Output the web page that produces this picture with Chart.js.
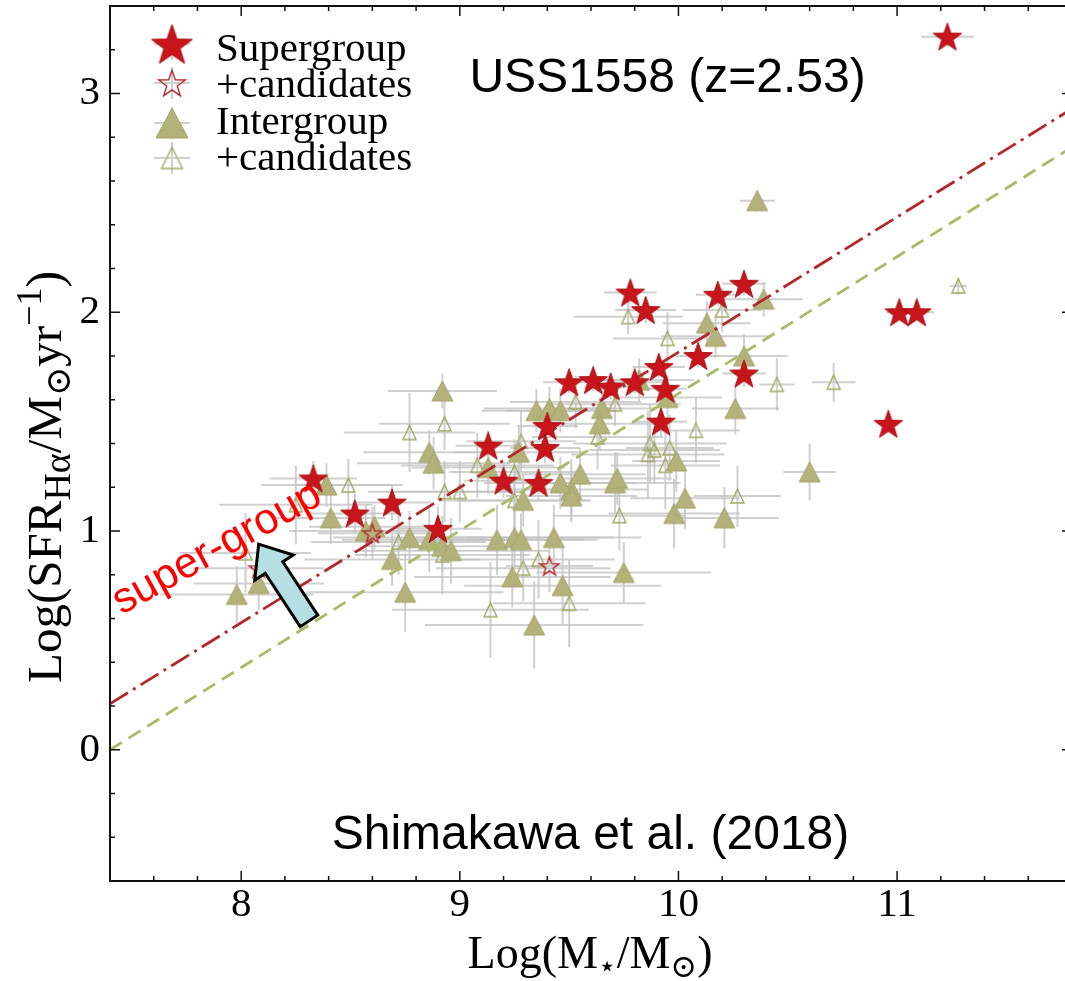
<!DOCTYPE html>
<html>
<head>
<meta charset="utf-8">
<script src="https://cdn.jsdelivr.net/npm/chart.js@4.4.1/dist/chart.umd.min.js"></script>
<style>
  html, body { margin: 0; padding: 0; background: #fff; overflow: hidden; }
  /* the plot frame runs slightly past the right edge of the window, as in the source figure */
  #wrap { width: 1065px; height: 981px; overflow: hidden; }
</style>
</head>
<body>
<div id="wrap"><canvas id="chart" width="1076" height="981"></canvas></div>
<script>
// axis ticks
const xTicks = [8, 9, 10, 11];
const yTicks = [0, 1, 2, 3];

// [logM, logSFR, xErr, yErr]
const supergroup = [
  [11.23, 3.26, 0.12, 0.05], [8.33, 1.24, 0.20, 0.08], [8.52, 1.08, 0.22, 0.09],
  [8.69, 1.13, 0.18, 0.08], [8.90, 1.01, 0.20, 0.10], [9.13, 1.39, 0.15, 0.07],
  [9.20, 1.23, 0.18, 0.08], [9.36, 1.22, 0.15, 0.08], [9.40, 1.48, 0.14, 0.06],
  [9.39, 1.38, 0.16, 0.07], [9.50, 1.68, 0.12, 0.05], [9.61, 1.69, 0.14, 0.05],
  [9.69, 1.66, 0.12, 0.06], [9.80, 1.68, 0.13, 0.05], [9.91, 1.75, 0.12, 0.05],
  [9.94, 1.65, 0.10, 0.06], [9.92, 1.50, 0.12, 0.07], [9.78, 2.09, 0.12, 0.05],
  [9.85, 2.01, 0.14, 0.06], [10.09, 1.80, 0.10, 0.05], [10.18, 2.08, 0.10, 0.05],
  [10.30, 2.13, 0.10, 0.05], [10.30, 1.72, 0.10, 0.06], [11.01, 2.00, 0.06, 0.03],
  [11.09, 2.00, 0.08, 0.03], [10.96, 1.49, 0.05, 0.04]
];
const supergroupCand = [
  [8.60, 0.99, 0.25, 0.12], [9.41, 0.84, 0.20, 0.12], [8.08, 0.83, 0.30, 0.12]
];
const intergroup = [
  [7.98, 0.71, 0.35, 0.13], [8.08, 0.76, 0.30, 0.12], [8.39, 1.21, 0.30, 0.10],
  [8.41, 1.06, 0.25, 0.12], [8.57, 1.00, 0.35, 0.12], [8.61, 1.02, 0.30, 0.10],
  [8.69, 0.87, 0.40, 0.12], [8.77, 0.97, 0.35, 0.12], [8.75, 0.72, 0.45, 0.18],
  [8.92, 1.64, 0.25, 0.08], [8.86, 1.36, 0.30, 0.10], [8.88, 1.31, 0.35, 0.12],
  [8.86, 0.96, 0.40, 0.15], [8.92, 0.93, 0.35, 0.12], [8.96, 0.91, 0.45, 0.15],
  [9.17, 0.96, 0.40, 0.16], [9.25, 0.97, 0.45, 0.14], [9.28, 0.96, 0.35, 0.12],
  [9.24, 0.79, 0.45, 0.14], [9.34, 0.57, 0.50, 0.20], [9.29, 1.14, 0.30, 0.12],
  [9.13, 1.29, 0.35, 0.12], [9.27, 1.36, 0.30, 0.12], [9.35, 1.55, 0.25, 0.10],
  [9.41, 1.56, 0.30, 0.10], [9.46, 1.55, 0.25, 0.10], [9.43, 0.97, 0.40, 0.15],
  [9.47, 0.75, 0.45, 0.18], [9.51, 1.19, 0.35, 0.14], [9.51, 1.16, 0.30, 0.12],
  [9.55, 1.26, 0.30, 0.12], [9.46, 1.22, 0.35, 0.12], [9.65, 1.56, 0.25, 0.10],
  [9.64, 1.49, 0.30, 0.12], [9.71, 1.22, 0.30, 0.14], [9.72, 1.24, 0.25, 0.12],
  [9.75, 0.81, 0.40, 0.14], [9.99, 1.32, 0.20, 0.14], [10.03, 1.15, 0.25, 0.14],
  [9.98, 1.08, 0.30, 0.16], [10.21, 1.06, 0.25, 0.14], [10.26, 1.56, 0.20, 0.12],
  [10.60, 1.27, 0.12, 0.13], [10.13, 1.95, 0.20, 0.10], [10.17, 1.89, 0.25, 0.10],
  [10.30, 1.80, 0.20, 0.10], [10.39, 2.06, 0.18, 0.08], [9.95, 1.61, 0.25, 0.10],
  [9.82, 1.69, 0.25, 0.10], [10.36, 2.51, 0.08, 0.05]
];
const intergroupCand = [
  [8.49, 1.21, 0.25, 0.12], [8.25, 1.12, 0.35, 0.18], [8.02, 0.90, 0.30, 0.18],
  [8.72, 0.95, 0.40, 0.15], [8.93, 1.49, 0.30, 0.12], [8.77, 1.45, 0.30, 0.18],
  [9.08, 1.30, 0.35, 0.15], [8.93, 1.18, 0.35, 0.14], [9.00, 1.18, 0.30, 0.14],
  [9.25, 1.27, 0.30, 0.15], [9.28, 1.41, 0.25, 0.14], [8.92, 0.89, 0.40, 0.18],
  [9.29, 0.83, 0.40, 0.15], [9.36, 0.87, 0.35, 0.18], [9.14, 0.64, 0.45, 0.22],
  [9.50, 0.67, 0.35, 0.20], [9.53, 1.59, 0.30, 0.12], [9.63, 1.43, 0.30, 0.15],
  [9.77, 1.98, 0.25, 0.08], [9.95, 1.88, 0.25, 0.12], [10.20, 2.01, 0.18, 0.10],
  [10.45, 1.67, 0.08, 0.12], [10.71, 1.68, 0.10, 0.09], [10.08, 1.46, 0.20, 0.15],
  [10.27, 1.16, 0.20, 0.14], [9.73, 1.07, 0.30, 0.16], [9.71, 1.58, 0.30, 0.10],
  [9.87, 1.40, 0.35, 0.18], [9.89, 1.37, 0.30, 0.15], [9.86, 1.35, 0.35, 0.20],
  [9.96, 1.38, 0.20, 0.15], [9.94, 1.30, 0.25, 0.20], [9.25, 1.14, 0.35, 0.16],
  [11.28, 2.12, 0.04, 0.04]
];

// main-sequence fits (end points)
const superFit = [[7.4, 0.21], [11.8, 2.93]];
const interFit = [[7.4, 0.00], [11.8, 2.755]];

const legendLabels = ["Supergroup", "+candidates", "Intergroup", "+candidates"];

const SERIF = "'Liberation Serif', 'DejaVu Serif', 'DejaVu Sans', serif";
const SANS = "'Liberation Sans', Arial, sans-serif";
const RED = "#c8151b";
const OLIVE = "#b3b27b";

// ---- marker bitmaps (filled star / open star / filled + open triangle)
function starPath(g, R, r) {
  g.beginPath();
  for (let i = 0; i < 10; i++) {
    const a = -Math.PI / 2 + i * Math.PI / 5;
    const rr = i % 2 ? r : R;
    g.lineTo(rr * Math.cos(a), rr * Math.sin(a));
  }
  g.closePath();
}
function starMarker(R, filled) {
  const c = document.createElement("canvas");
  c.width = c.height = Math.ceil(2 * R + 4);
  const g = c.getContext("2d");
  g.translate(c.width / 2, c.height / 2 + 0.095 * R);
  starPath(g, R, R * 0.4);
  if (filled) {
    g.fillStyle = RED; g.fill();
    g.strokeStyle = "#a80f14"; g.lineWidth = 1; g.stroke();
  } else {
    g.strokeStyle = "#b8272c"; g.lineWidth = 1.4; g.stroke();
  }
  return c;
}
function triMarker(w, h, filled) {
  const c = document.createElement("canvas");
  c.width = Math.ceil(w + 4); c.height = Math.ceil(h + 4);
  const g = c.getContext("2d");
  g.translate(c.width / 2, c.height / 2);
  g.beginPath();
  g.moveTo(0, -h / 2); g.lineTo(w / 2, h / 2); g.lineTo(-w / 2, h / 2); g.closePath();
  if (filled) {
    g.fillStyle = OLIVE; g.fill();
    g.strokeStyle = "#a4a36b"; g.lineWidth = 1; g.stroke();
  } else {
    g.strokeStyle = "#a2a866"; g.lineWidth = 1.4; g.stroke();
  }
  return c;
}

const mk = {
  star: starMarker(15, true), starOpen: starMarker(10, false),
  tri: triMarker(21, 20, true), triOpen: triMarker(13, 14, false)
};
const legendMk = [starMarker(21.5, true), starMarker(14, false), triMarker(32, 30, true), triMarker(21, 21, false)];

const pts = (arr) => arr.map(([x, y]) => ({ x, y }));

// ---- error bars behind all markers
const errorBars = {
  id: "errorBars",
  beforeDatasetsDraw(chart) {
    const { ctx, chartArea: a, scales: { x, y } } = chart;
    ctx.save();
    ctx.beginPath();
    ctx.rect(a.left, a.top, a.right - a.left, a.bottom - a.top);
    ctx.clip();
    ctx.strokeStyle = "rgba(196,196,196,0.8)";
    ctx.lineWidth = 2;
    chart.data.datasets.forEach((ds) => {
      if (!ds.errors) return;
      ds.errors.forEach(([vx, vy, ex, ey]) => {
        const px = x.getPixelForValue(vx), py = y.getPixelForValue(vy);
        ctx.beginPath();
        ctx.moveTo(x.getPixelForValue(vx - ex), py);
        ctx.lineTo(x.getPixelForValue(vx + ex), py);
        ctx.moveTo(px, y.getPixelForValue(vy - ey));
        ctx.lineTo(px, y.getPixelForValue(vy + ey));
        ctx.stroke();
      });
    });
    ctx.restore();
  }
};

// ---- mixed-size text (sub/superscripts)
function richWidth(ctx, parts) {
  let w = 0;
  parts.forEach((p) => { ctx.font = `${p.s}px ${SERIF}`; w += ctx.measureText(p.t).width; });
  return w;
}
function drawRich(ctx, parts, x, y) {
  parts.forEach((p) => {
    ctx.font = `${p.s}px ${SERIF}`;
    ctx.fillText(p.t, x, y + (p.dy || 0));
    x += ctx.measureText(p.t).width;
  });
}

// ---- frame, inward ticks, titles, legend, annotations
const decor = {
  id: "decor",
  afterDatasetsDraw(chart) {
    const { ctx, scales: { x, y } } = chart;
    ctx.save();
    // "super-group" label + arrow
    ctx.fillStyle = "#ff0000";
    ctx.font = `43px ${SANS}`;
    ctx.textAlign = "center";
    ctx.textBaseline = "middle";
    ctx.translate(x.getPixelForValue(7.89), y.getPixelForValue(0.92));
    ctx.rotate(-29 * Math.PI / 180);
    ctx.fillText("super-group", 0, 0);
    ctx.restore();

    const tip = { x: x.getPixelForValue(8.08), y: y.getPixelForValue(0.94) };
    const tail = { x: x.getPixelForValue(8.31), y: y.getPixelForValue(0.589) };
    const len = Math.hypot(tip.x - tail.x, tip.y - tail.y);
    const u = { x: (tip.x - tail.x) / len, y: (tip.y - tail.y) / len };
    const n = { x: -u.y, y: u.x };
    const sw = 10.5, hw = 23, hl = 28;
    const neck = { x: tip.x - u.x * hl, y: tip.y - u.y * hl };
    ctx.save();
    ctx.beginPath();
    ctx.moveTo(tail.x + n.x * sw, tail.y + n.y * sw);
    ctx.lineTo(neck.x + n.x * sw, neck.y + n.y * sw);
    ctx.lineTo(neck.x + n.x * hw, neck.y + n.y * hw);
    ctx.lineTo(tip.x, tip.y);
    ctx.lineTo(neck.x - n.x * hw, neck.y - n.y * hw);
    ctx.lineTo(neck.x - n.x * sw, neck.y - n.y * sw);
    ctx.lineTo(tail.x - n.x * sw, tail.y - n.y * sw);
    ctx.closePath();
    ctx.fillStyle = "#b5dfe2";
    ctx.fill();
    ctx.lineWidth = 3;
    ctx.lineJoin = "miter";
    ctx.strokeStyle = "#000";
    ctx.stroke();
    ctx.restore();
  },
  afterDraw(chart) {
    const { ctx, chartArea: a, scales: { x, y } } = chart;
    ctx.save();
    // frame
    ctx.strokeStyle = "#111";
    ctx.lineWidth = 2;
    ctx.strokeRect(a.left, a.top, a.right - a.left, a.bottom - a.top);
    ctx.lineWidth = 1.5;
    ctx.beginPath();
    for (let k = 37; k <= 59; k++) {
      const px = x.getPixelForValue(k / 5), L = k % 5 === 0 ? 10 : 5;
      ctx.moveTo(px, a.bottom); ctx.lineTo(px, a.bottom - L);
      ctx.moveTo(px, a.top); ctx.lineTo(px, a.top + L);
    }
    for (let k = -3; k <= 17; k++) {
      const py = y.getPixelForValue(k / 5), L = k % 5 === 0 ? 10 : 5;
      ctx.moveTo(a.left, py); ctx.lineTo(a.left + L, py);
      ctx.moveTo(a.right, py); ctx.lineTo(a.right - L, py);
    }
    ctx.stroke();

    // axis titles
    ctx.fillStyle = "#000";
    ctx.textAlign = "left";
    ctx.textBaseline = "alphabetic";
    const xTitle = [
      { t: "Log(M", s: 46 }, { t: "⋆", s: 30, dy: 8 }, { t: "/M", s: 46 },
      { t: "⊙", s: 32, dy: 9 }, { t: ")", s: 46 }
    ];
    drawRich(ctx, xTitle, 590 - richWidth(ctx, xTitle) / 2, 968);
    const yTitle = [
      { t: "Log(SFR", s: 49 }, { t: "Hα", s: 38, dy: 9 }, { t: "/M", s: 49 },
      { t: "⊙", s: 35, dy: 9 }, { t: "yr", s: 49 }, { t: "−1", s: 36, dy: -20 }, { t: ")", s: 50 }
    ];
    ctx.save();
    ctx.translate(61, 477);
    ctx.rotate(-Math.PI / 2);
    drawRich(ctx, yTitle, -richWidth(ctx, yTitle) / 2, 0);
    ctx.restore();

    // legend
    const rows = [44, 83, 123, 158];
    const bases = [61, 97, 134, 170];
    ctx.strokeStyle = "rgba(200,200,200,0.85)";
    ctx.lineWidth = 2;
    rows.forEach((ry, i) => {
      ctx.beginPath();
      ctx.moveTo(154, ry); ctx.lineTo(190, ry);
      ctx.moveTo(172, ry - 16); ctx.lineTo(172, ry + 16);
      ctx.stroke();
      const m = legendMk[i];
      ctx.drawImage(m, 172 - m.width / 2, ry - m.height / 2);
      ctx.font = `41px ${SERIF}`;
      ctx.fillText(legendLabels[i], 216, bases[i]);
    });

    // panel labels
    ctx.font = `48px ${SANS}`;
    ctx.fillText("USS1558 (z=2.53)", x.getPixelForValue(9.044), y.getPixelForValue(3.007));
    ctx.fillText("Shimakawa et al. (2018)", x.getPixelForValue(8.414), y.getPixelForValue(-0.454));
    ctx.restore();
  }
};

const tickFont = { family: SERIF, size: 41 };
// drop Chart.js' automatic label-overflow padding so the plot box sits exactly
const noPad = (s) => { s.paddingTop = 0; s.paddingBottom = 0; s.paddingLeft = 0; s.paddingRight = 0; };
// markers are bitmaps; a tiny radius keeps Chart.js from reserving point overflow padding
const markerOpts = { pointRadius: 0.5, pointBorderWidth: 0, showLine: false };

new Chart(document.getElementById("chart"), {
  type: "scatter",
  data: {
    datasets: [
      { label: "Supergroup", data: pts(supergroup), errors: supergroup, pointStyle: mk.star, ...markerOpts },
      { label: "+candidates", data: pts(supergroupCand), errors: supergroupCand, pointStyle: mk.starOpen, ...markerOpts },
      {
        type: "line", label: "supergroup fit", data: pts(superFit), showLine: true, pointRadius: 0, pointBorderWidth: 0,
        borderColor: "#b3272b", borderWidth: 2.8, borderDash: [21, 6, 3, 6], fill: false
      },
      {
        type: "line", label: "intergroup fit", data: pts(interFit), showLine: true, pointRadius: 0, pointBorderWidth: 0,
        borderColor: "#a9ba66", borderWidth: 2.8, borderDash: [14, 8], fill: false
      },
      { label: "Intergroup", data: pts(intergroup), errors: intergroup, pointStyle: mk.tri, ...markerOpts },
      { label: "+candidates", data: pts(intergroupCand), errors: intergroupCand, pointStyle: mk.triOpen, ...markerOpts }
    ]
  },
  options: {
    responsive: false,
    animation: false,
    events: [],
    layout: { padding: { top: 6, right: 2, left: 0, bottom: 0 } },
    plugins: { legend: { display: false }, tooltip: { enabled: false } },
    scales: {
      x: {
        type: "linear", min: 7.4, max: 11.8,
        grid: { display: false, drawTicks: false }, border: { display: false },
        ticks: { font: tickFont, color: "#000", padding: 0, autoSkip: false, maxRotation: 0 },
        afterBuildTicks: (s) => { s.ticks = xTicks.map((v) => ({ value: v })); },
        afterFit: (s) => { s.height = 100; noPad(s); }
      },
      y: {
        type: "linear", min: -0.6, max: 3.4,
        grid: { display: false, drawTicks: false }, border: { display: false },
        ticks: { font: tickFont, color: "#000", padding: 10, autoSkip: false },
        afterBuildTicks: (s) => { s.ticks = yTicks.map((v) => ({ value: v })); },
        afterFit: (s) => { s.width = 110; noPad(s); }
      }
    }
  },
  plugins: [errorBars, decor]
});
</script>
</body>
</html>
